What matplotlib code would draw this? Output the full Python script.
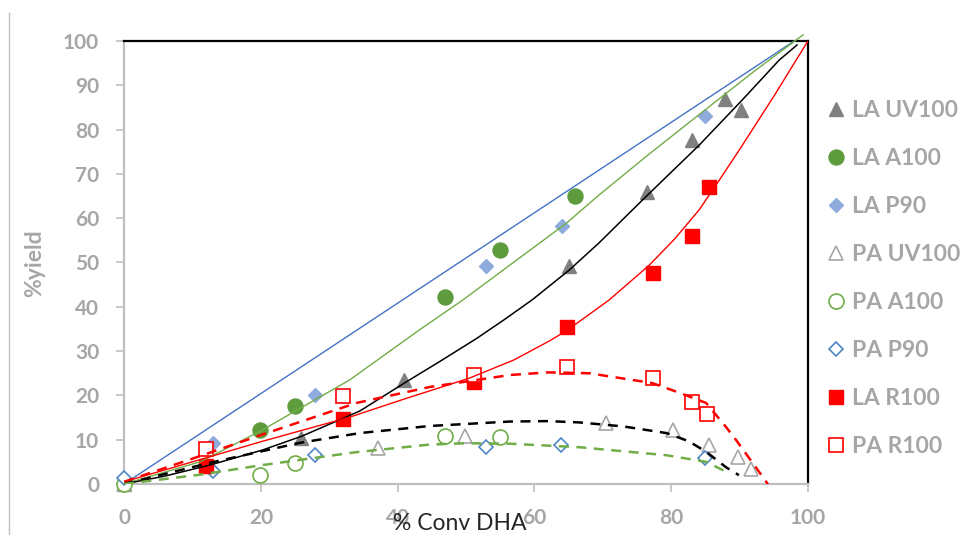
import matplotlib.pyplot as plt
from matplotlib.lines import Line2D

# Points mesurés (% conversion DHA, % rendement)
la_uv100_x = [0, 25.9, 41.0, 65.1, 76.5, 83.0, 87.9, 90.2]
la_uv100_y = [0, 10.3, 23.5, 49.3, 66.0, 77.7, 86.8, 84.4]
la_a100_x = [19.9, 25.0, 47.0, 54.9, 65.9]
la_a100_y = [12.3, 17.5, 42.1, 52.8, 65.1]
la_p90_x = [13.0, 27.9, 52.9, 64.0, 85.0]
la_p90_y = [9.2, 20.1, 49.3, 58.3, 83.1]
pa_uv100_x = [0, 37.1, 49.9, 70.5, 80.2, 85.6, 89.7, 91.7]
pa_uv100_y = [0, 8.1, 10.9, 13.7, 12.3, 8.8, 6.0, 3.4]
pa_a100_x = [0, 19.9, 25.0, 47.0, 54.9]
pa_a100_y = [0, 2.0, 4.8, 10.9, 10.5]
pa_p90_x = [0, 13.0, 27.9, 52.9, 63.9, 85.0]
pa_p90_y = [1.3, 3.0, 6.5, 8.3, 8.8, 5.8]
la_r100_x = [12.0, 32.0, 51.1, 64.7, 77.4, 83.0, 85.5]
la_r100_y = [4.1, 14.6, 23.1, 35.4, 47.6, 56.0, 67.0]
pa_r100_x = [12.0, 32.0, 51.1, 64.8, 77.4, 83.0, 85.3]
pa_r100_y = [8.0, 19.9, 24.6, 26.3, 23.9, 18.4, 15.8]

# Courbes
bleu_x = [0, 98]
bleu_y = [0, 100]
vert_x = [0, 11.1, 20, 33, 43.2, 49.5, 64.7, 69.5, 76.8, 84.1, 92, 99.3]
vert_y = [0, 5.0, 12.0, 23.5, 34.8, 41.5, 58.9, 65.3, 74.5, 83.4, 93.0, 101.4]
noir_x = [0, 6, 12.6, 20.3, 26, 34.5, 41, 46, 51.5, 55.5, 59.7, 65.1, 69.5, 75.8, 84.1, 90.4, 95.8, 98.4]
noir_y = [0, 1.8, 4.3, 7.7, 10.8, 16.5, 22.8, 27.5, 32.8, 37.0, 41.6, 48.3, 54.5, 64.1, 76.5, 86.7, 95.7, 99.1]
rouge_x = [0, 11.1, 19.9, 33, 41, 50.5, 57, 62.2, 64.7, 70.9, 76.8, 80.5, 84.1, 87, 90, 95, 100]
rouge_y = [0.5, 5.5, 9.5, 15.1, 19.2, 23.9, 28.0, 32.3, 34.6, 41.5, 49.4, 55.3, 61.9, 68.5, 75.5, 87.5, 100]
rouge_tir_x = [0, 11.1, 19.9, 34, 44.7, 56.4, 62, 68, 77.2, 81.2, 85.1, 88, 89.5, 91.8, 93.9, 94.3]
rouge_tir_y = [0.5, 6.3, 11.0, 18.3, 21.9, 24.6, 25.2, 25.0, 22.8, 20.6, 18.3, 12.9, 9.9, 5.0, 0.5, -0.5]
noir_tir_x = [0, 12.6, 25.7, 34.5, 44.7, 56.4, 62, 66.6, 73, 79.3, 82.5, 85.1, 88, 89.9]
noir_tir_y = [0, 4.8, 9.3, 11.5, 13.1, 14.1, 14.2, 13.9, 13.0, 11.5, 9.7, 7.3, 3.8, 2.0]
vert_tir_x = [0, 11.1, 19.9, 34, 44.7, 50, 56.4, 66.6, 79.3, 85.1, 88]
vert_tir_y = [0, 2.1, 4.2, 7.2, 8.9, 9.2, 9.1, 8.3, 6.5, 5.0, 2.8]

gris = '#A6A6A6'
plt.rcParams['font.family'] = ['Lato', 'DejaVu Sans']

fig = plt.figure(figsize=(9.79, 5.35), dpi=100)
ax = fig.add_axes([0.1267, 0.0953, 0.6986, 0.8281])

# Séries de points
ax.plot(la_uv100_x, la_uv100_y, '^', ms=10, color='#808080', mec='#808080', label='LA UV100', zorder=3, clip_on=False)
ax.plot(la_a100_x, la_a100_y, 'o', ms=10.8, color='#5E9B3D', mec='#5E9B3D', label='LA A100', zorder=3, clip_on=False)
ax.plot(la_p90_x, la_p90_y, 'D', ms=7, color='#8FAADC', mec='#8FAADC', label='LA P90', zorder=3, clip_on=False)
ax.plot(pa_uv100_x, pa_uv100_y, '^', ms=10, mfc='white', mec=gris, mew=1.2, label='PA UV100', zorder=3, clip_on=False)
ax.plot(pa_a100_x, pa_a100_y, 'o', ms=10.8, mfc='white', mec='#70AD47', mew=1.2, label='PA A100', zorder=3, clip_on=False)
ax.plot(pa_p90_x, pa_p90_y, 'D', ms=7, mfc='white', mec='#4F86C6', mew=1.2, label='PA P90', zorder=3, clip_on=False)
ax.plot(la_r100_x, la_r100_y, 's', ms=10, color='#FF0000', mec='#FF0000', label='LA R100', zorder=3, clip_on=False)
ax.plot(pa_r100_x, pa_r100_y, 's', ms=10, mfc='white', mec='#FF0000', mew=1.2, label='PA R100', zorder=3, clip_on=False)

# Courbes de tendance
ax.plot(bleu_x, bleu_y, color='#4472C4', lw=1, zorder=4, clip_on=False)
ax.plot(vert_x, vert_y, color='#70AD47', lw=1, zorder=4, clip_on=False)
ax.plot(noir_x, noir_y, color='black', lw=1.1, zorder=4)
ax.plot(rouge_x, rouge_y, color='#FF0000', lw=1, zorder=4)
ax.plot(rouge_tir_x, rouge_tir_y, '--', color='#FF0000', lw=1.8, dashes=(4, 3), zorder=4)
ax.plot(noir_tir_x, noir_tir_y, '--', color='black', lw=1.8, dashes=(4, 3), zorder=4)
ax.plot(vert_tir_x, vert_tir_y, '--', color='#70AD47', lw=1.8, dashes=(4, 3), zorder=4)

ax.set_xlim(0, 100)
ax.set_ylim(0, 100)
ax.set_xticks([0, 20, 40, 60, 80, 100])
ax.set_yticks(range(0, 101, 10))

# Axes : gauche/bas gris, haut/droite noirs
ax.spines['left'].set_color('#BFBFBF')
ax.spines['bottom'].set_color('#BFBFBF')
ax.spines['left'].set_linewidth(1.6)
ax.spines['bottom'].set_linewidth(1.6)
ax.spines['top'].set_color('black')
ax.spines['right'].set_color('black')
ax.spines['top'].set_linewidth(1.6)
ax.spines['right'].set_linewidth(1.6)
ax.tick_params(axis='both', direction='out', length=6, width=1.2, color='#BFBFBF',
               labelcolor=gris, labelsize=15)
ax.tick_params(axis='y', pad=12)
ax.tick_params(axis='x', pad=11)
for lab in ax.get_xticklabels() + ax.get_yticklabels():
    lab.set_fontweight('bold')

ax.set_xlabel('% Conv DHA', fontsize=16.5, color='#262626')
ax.xaxis.label.set_va('center')
ax.xaxis.set_label_coords(0.491, -0.088)
ax.set_ylabel('%yield', fontsize=16.5, color=gris, fontweight='bold')
ax.yaxis.label.set_va('center')
ax.yaxis.set_label_coords(-0.131, 0.499)

# Légende à droite
leg = ax.legend(loc='upper left', bbox_to_anchor=(828 / 979, (535 - 100) / 535),
                bbox_transform=fig.transFigure, frameon=False, fontsize=16.5,
                handlelength=0.7, handletextpad=0.35, labelspacing=1.18,
                borderpad=0, borderaxespad=0)
for t in leg.get_texts():
    t.set_color(gris)
    t.set_fontweight('bold')

# Trait vertical à gauche du cadre
fig.add_artist(Line2D([9 / 979, 9 / 979], [0, (535 - 13) / 535], color='#BFBFBF', lw=1,
                      transform=fig.transFigure))

plt.savefig('out.png', dpi=100)
